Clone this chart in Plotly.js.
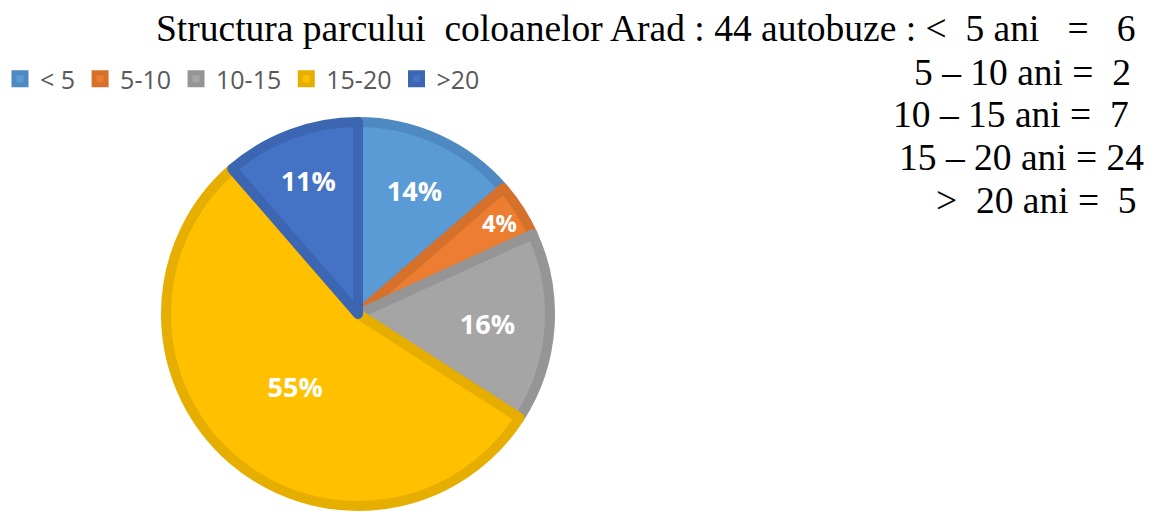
<!DOCTYPE html>
<html>
<head>
<meta charset="utf-8">
<script src="https://cdn.plot.ly/plotly-3.0.1.min.js"></script>
<style>html,body{margin:0;padding:0;background:#fff;}#chart{width:1162px;height:512px;}</style>
</head>
<body>
<div id="chart"></div>
<script>
const categories = ['< 5', '5-10', '10-15', '15-20', '>20'];
const busCounts = [6, 2, 7, 24, 5];
const pctLabels = ['14%', '4%', '16%', '55%', '11%'];
const fillColors = ['#5B9BD5', '#ED7D31', '#A5A5A5', '#FFC000', '#4472C4'];
const edgeColors = ['#4E89C2', '#D6712B', '#959595', '#E6AE00', '#3C66B2'];
const titleLine = 'Structura parcului\u00a0\u00a0coloanelor Arad : 44 autobuze : <\u00a0\u00a05 ani\u00a0\u00a0\u00a0=\u00a0\u00a0\u00a06';
const sideLines = ['5 \u2013 10 ani =\u00a0\u00a02', '10 \u2013 15 ani =\u00a0\u00a07', '15 \u2013 20 ani = 24', '>\u00a0\u00a020 ani =\u00a0\u00a05'];

const W = 1162, H = 512;
const trace = {
  type: 'pie',
  labels: categories,
  values: busCounts,
  text: pctLabels,
  textinfo: 'text',
  textposition: 'inside',
  insidetextorientation: 'horizontal',
  textfont: {family: 'Open Sans', size: 27, color: '#ffffff', weight: 'bold'},
  sort: false,
  direction: 'clockwise',
  rotation: 0,
  marker: {colors: fillColors, line: {color: edgeColors, width: 10}},
  domain: {x: [166 / W, 550 / W], y: [1 - 506 / H, 1 - 122 / H]},
  hoverinfo: 'label+value'
};

const textRight = [1138, 1133, 1131, 1146, 1139];
const lineY = [28, 72, 114, 157, 200];
const allLines = [titleLine].concat(sideLines);
const annotations = allLines.map((t, i) => ({
  xref: 'paper', yref: 'paper', x: textRight[i] / W, y: 1 - lineY[i] / H,
  xanchor: 'right', yanchor: 'middle', showarrow: false,
  text: t,
  font: {family: 'Liberation Serif', size: 37.5, color: '#000'}
}));

const layout = {
  width: W, height: H,
  margin: {l: 0, r: 0, t: 0, b: 0, autoexpand: false},
  paper_bgcolor: '#fff',
  showlegend: true,
  legend: {
    orientation: 'h', xref: 'container', yref: 'container',
    x: 0, y: 1 - 56 / H, xanchor: 'left', yanchor: 'top',
    font: {family: 'Open Sans', size: 25, color: '#595959'},
    traceorder: 'normal'
  },
  annotations: annotations
};

Plotly.newPlot('chart', [trace], layout, {displayModeBar: false, staticPlot: true});
</script>
</body>
</html>
